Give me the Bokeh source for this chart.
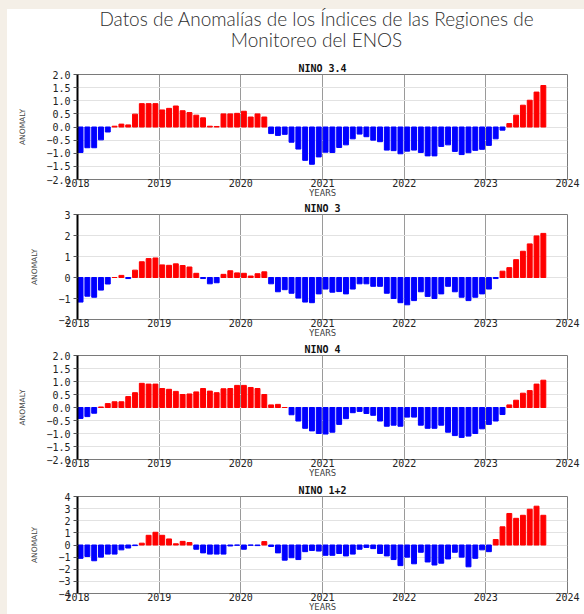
import numpy as np
from bokeh.plotting import figure
from bokeh.models import Range1d, FixedTicker, Div, ColumnDataSource
from bokeh.layouts import column, row
from bokeh.embed import file_html
from bokeh.resources import INLINE

# ---------------- data (monthly anomalies, Jan 2018 - Sep 2023) ----------------
start_year = 2018
n_months = 69
year_ticks = [2018, 2019, 2020, 2021, 2022, 2023, 2024]

nino34 = [-0.97, -0.79, -0.79, -0.49, -0.19, 0.03, 0.11, 0.08, 0.49, 0.89, 0.89, 0.89,
          0.65, 0.71, 0.80, 0.62, 0.55, 0.45, 0.35, 0.03, 0.02, 0.50, 0.50, 0.52,
          0.60, 0.38, 0.50, 0.38, -0.25, -0.32, -0.28, -0.58, -0.84, -1.27, -1.42, -1.14,
          -0.96, -0.97, -0.78, -0.68, -0.45, -0.27, -0.37, -0.50, -0.56, -0.88, -0.90, -1.02,
          -0.92, -0.88, -0.97, -1.10, -1.10, -0.74, -0.68, -0.93, -1.05, -0.98, -0.89, -0.85,
          -0.70, -0.45, -0.12, 0.13, 0.45, 0.83, 1.02, 1.33, 1.58]

nino3 = [-1.17, -0.89, -0.94, -0.60, -0.31, 0.00, 0.10, -0.05, 0.35, 0.75, 0.90, 0.93,
         0.60, 0.58, 0.65, 0.57, 0.50, 0.20, -0.05, -0.30, -0.25, 0.15, 0.32, 0.22,
         0.20, 0.07, 0.18, 0.27, -0.30, -0.68, -0.58, -0.75, -0.98, -1.17, -1.20, -0.78,
         -0.55, -0.70, -0.67, -0.78, -0.55, -0.30, -0.30, -0.42, -0.42, -0.75, -1.00, -1.20,
         -1.30, -1.10, -0.68, -0.90, -1.00, -0.78, -0.42, -0.68, -0.94, -1.10, -0.94, -0.78,
         -0.55, -0.05, 0.30, 0.47, 0.85, 1.25, 1.60, 1.98, 2.10]

nino4 = [-0.42, -0.35, -0.22, 0.02, 0.15, 0.22, 0.22, 0.42, 0.57, 0.93, 0.90, 0.90,
         0.73, 0.70, 0.62, 0.50, 0.52, 0.60, 0.73, 0.63, 0.57, 0.72, 0.73, 0.85,
         0.85, 0.77, 0.73, 0.50, 0.10, 0.12, 0.00, -0.28, -0.52, -0.80, -0.90, -1.00,
         -1.02, -0.95, -0.65, -0.43, -0.20, -0.15, -0.23, -0.30, -0.52, -0.72, -0.68, -0.72,
         -0.37, -0.37, -0.68, -0.80, -0.80, -0.68, -0.95, -1.08, -1.15, -1.10, -1.00, -0.82,
         -0.65, -0.52, -0.27, 0.10, 0.28, 0.55, 0.65, 0.90, 1.05]

nino12 = [-1.10, -0.95, -1.30, -1.00, -0.75, -0.75, -0.40, -0.25, -0.05, 0.15, 0.80, 1.05,
          0.80, 0.50, 0.10, 0.30, 0.20, -0.35, -0.65, -0.75, -0.75, -0.75, -0.08, -0.02,
          -0.35, -0.02, -0.05, 0.28, -0.12, -0.65, -1.25, -1.05, -1.20, -0.55, -0.45, -0.50,
          -0.85, -0.85, -0.70, -0.90, -0.75, -0.35, -0.20, -0.30, -0.70, -0.90, -1.20, -1.70,
          -1.00, -1.55, -0.60, -1.40, -1.65, -1.50, -1.15, -0.60, -1.00, -1.80, -1.10, -0.40,
          -0.55, 0.45, 1.50, 2.60, 2.20, 2.45, 2.95, 3.20, 2.45]

ticks_2 = [-2.0, -1.5, -1.0, -0.5, 0.0, 0.5, 1.0, 1.5, 2.0]
labels_2 = ["\u22122.0", "\u22121.5", "\u22121.0", "\u22120.5", "0.0", "0.5", "1.0", "1.5", "2.0"]
ticks_3 = [-2, -1, 0, 1, 2, 3]
labels_3 = ["\u22122", "\u22121", "0", "1", "2", "3"]
ticks_4 = [-4, -3, -2, -1, 0, 1, 2, 3, 4]
labels_4 = ["\u22124", "\u22123", "\u22122", "\u22121", "0", "1", "2", "3", "4"]

titles = ["NINO 3.4", "NINO 3", "NINO 4", "NINO 1+2"]
main_title_1 = "Datos de Anomalías de los Índices de las Regiones de"
main_title_2 = "Monitoreo del ENOS"

# ---------------- styling ----------------
BEIGE = "#f4efe7"
RED = "#ff0000"
BLUE = "#0000ff"
MONO = "DejaVu Sans Mono"

months = [start_year + (i + 0.45) / 12.0 for i in range(n_months)]


def panel(title, vals, yr, ticks, labels, height, top_border):
    p = figure(width=577, height=height, x_range=Range1d(2018, 2024),
               y_range=Range1d(*yr), toolbar_location=None, output_backend="svg",
               min_border_left=70, min_border_right=17, min_border_top=top_border,
               min_border_bottom=12)
    p.background_fill_color = "white"
    p.border_fill_color = "white"
    p.outline_line_color = "#7a7a7a"
    p.outline_line_width = 1

    src = ColumnDataSource(dict(x=months, top=vals,
                                color=[RED if v >= 0 else BLUE for v in vals]))
    p.vbar(x="x", top="top", bottom=0, width=0.72 / 12, color="color", source=src)

    p.title.text = title
    p.title.align = "center"
    p.title.text_font = MONO
    p.title.text_font_size = "10px"
    p.title.text_font_style = "bold"
    p.title.standoff = 1
    p.title.text_color = "#111111"

    # x axis
    xa = p.xaxis[0]
    xa.ticker = FixedTicker(ticks=year_ticks)
    xa.major_label_text_font = MONO
    xa.major_label_text_font_size = "10px"
    xa.major_label_text_color = "#222222"
    xa.major_label_standoff = -1
    xa.major_tick_in = 0
    xa.major_tick_out = 0
    xa.minor_tick_in = 0
    xa.minor_tick_out = 0
    xa.axis_line_color = "#7a7a7a"
    xa.axis_label = "YEARS"
    xa.axis_label_text_font = MONO
    xa.axis_label_text_font_size = "9px"
    xa.axis_label_text_font_style = "normal"
    xa.axis_label_standoff = -2

    # y axis
    ya = p.yaxis[0]
    ya.ticker = FixedTicker(ticks=ticks)
    ya.major_label_overrides = {t: l for t, l in zip(ticks, labels)}
    ya.major_label_text_font = MONO
    ya.major_label_text_font_size = "10px"
    ya.major_label_text_color = "#222222"
    ya.major_label_standoff = 3
    ya.major_tick_in = 0
    ya.major_tick_out = 4
    ya.major_tick_line_color = "#555555"
    ya.minor_tick_in = 0
    ya.minor_tick_out = 0
    ya.axis_line_color = "black"
    ya.axis_line_width = 2
    ya.axis_label = "ANOMALY"
    ya.axis_label_text_font = "DejaVu Sans"
    ya.axis_label_text_font_size = "7.5px"
    ya.axis_label_text_font_style = "normal"
    ya.axis_label_standoff = 16

    p.xgrid.ticker = FixedTicker(ticks=year_ticks)
    p.xgrid.grid_line_color = "#9a9a9a"
    p.ygrid.ticker = FixedTicker(ticks=ticks)
    p.ygrid.grid_line_color = "#e2e2e2"
    return p


p1 = panel(titles[0], nino34, (-2, 2), ticks_2, labels_2, 140, 14)
p2 = panel(titles[1], nino3, (-2, 3), ticks_3, labels_3, 140, 14)
p3 = panel(titles[2], nino4, (-2, 2), ticks_2, labels_2, 140, 15)
p4 = panel(titles[3], nino12, (-4, 4), ticks_4, labels_4, 134, 16)

title_html = (
    '<div style="display:block; width:535px; margin-left:42px; text-align:center; '
    'font-family:Lato, sans-serif; font-size:19px; font-weight:300; color:#2d2d2d; '
    'line-height:21px; margin-top:-1px;">'
    + main_title_1 + "<br>" + main_title_2 + "</div>"
)
title_div = Div(text=title_html, width=577, height=51, margin=0,
                styles={"background-color": "white", "padding": "0"})

top_strip = Div(text="", width=577, height=9, margin=0,
                styles={"background-color": BEIGE, "padding": "0"})
left_strip = Div(text="", width=7, height=614, margin=0,
                 styles={"background-color": BEIGE, "padding": "0"})

right = column(top_strip, title_div, p1, p2, p3, p4, spacing=0)
root = row(left_strip, right, spacing=0)

open("out.html", "w").write(file_html(root, INLINE))
